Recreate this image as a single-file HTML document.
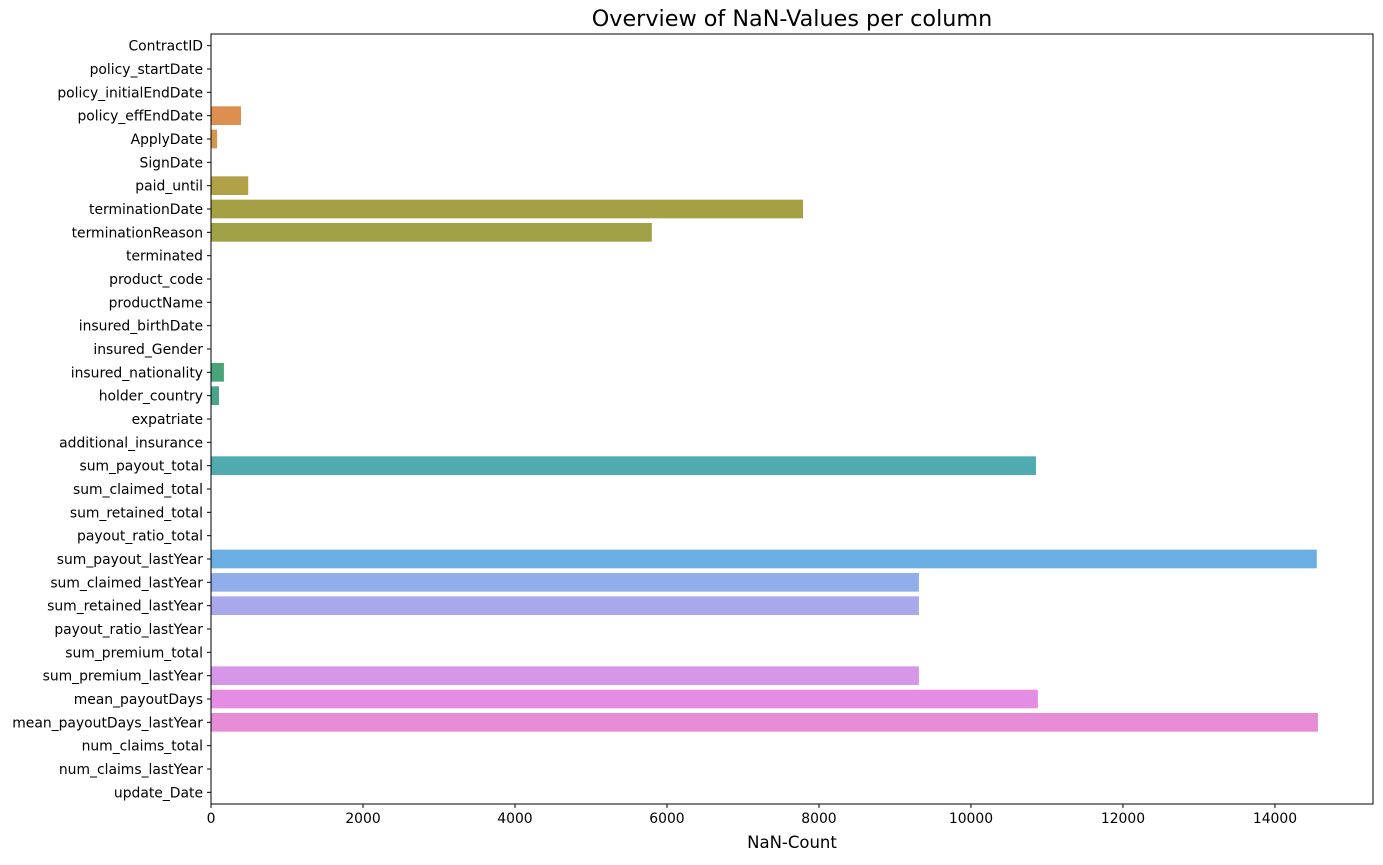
<!DOCTYPE html>
<html><head><meta charset="utf-8"><style>
body{margin:0;background:#fff;font-family:"DejaVu Sans","Liberation Sans",sans-serif;}
</style></head><body>
<svg width="1383" height="861" id="c" font-family="DejaVu Sans, Liberation Sans, sans-serif"></svg>
<script>
const categories=["ContractID","policy_startDate","policy_initialEndDate","policy_effEndDate","ApplyDate","SignDate","paid_until","terminationDate","terminationReason","terminated","product_code","productName","insured_birthDate","insured_Gender","insured_nationality","holder_country","expatriate","additional_insurance","sum_payout_total","sum_claimed_total","sum_retained_total","payout_ratio_total","sum_payout_lastYear","sum_claimed_lastYear","sum_retained_lastYear","payout_ratio_lastYear","sum_premium_total","sum_premium_lastYear","mean_payoutDays","mean_payoutDays_lastYear","num_claims_total","num_claims_lastYear","update_Date"];
const values=[0,0,0,395,80,0,490,7790,5800,0,0,0,0,0,170,105,0,0,10855,0,0,0,14550,9315,9315,0,0,9315,10880,14565,0,0,0];
const colors=["#f77189","#f7754f","#e8853a","#dd8f4f","#d4944a","#c29a3a","#b0a046","#a5a044","#a0a046","#8ca731","#73ac32","#4fb031","#35ae5f","#36ad78","#4aa47a","#49a58a","#39a895","#3aa79f","#4fabb0","#3ca9b6","#3dabc4","#41add7","#6aaee3","#90aeea","#a8a8eb","#ae9df4","#c49af4","#d797e8","#e58de3","#e68bd5","#f56cc4","#f66ba9","#f66f96"];
const xTicks=[0,2000,4000,6000,8000,10000,12000,14000];
const L=211,R=1373,T=34,B=804,XMAX=15290;
const sx=v=>L+v/XMAX*(R-L);
const band=(B-T)/categories.length;
const sy=i=>T+i*band;
const NS="http://www.w3.org/2000/svg";
const svg=document.getElementById('c');
function mk(t,a,txt){const e=document.createElementNS(NS,t);for(const k in a)e.setAttribute(k,a[k]);if(txt!==undefined)e.textContent=txt;svg.appendChild(e);return e;}
categories.forEach((c,i)=>{
 const y=sy(i),h=band*0.8;
 const r=mk('rect',{x:L,y:y+band*0.1,width:Math.max(0,sx(values[i])-L),height:h,fill:colors[i]});
 
 
 const yc=y+band/2;
 mk('line',{x1:L-4,x2:L,y1:yc,y2:yc,stroke:'#000','stroke-width':1});
 const t=mk('text',{x:L-8,y:yc+5,'text-anchor':'end','font-size':13.9,fill:'#000'},c);
 
 
});
xTicks.forEach(v=>{
 const x=sx(v);
 mk('line',{x1:x,x2:x,y1:B,y2:B+4,stroke:'#000','stroke-width':1});
 const t=mk('text',{x:x,y:B+19,'text-anchor':'middle','font-size':13.9,fill:'#000'},String(v));
 
 
});
const f=mk('rect',{x:L,y:T,width:R-L,height:B-T,fill:'none',stroke:'#000','stroke-width':1});


const ti=mk('text',{x:(L+R)/2,y:26,'text-anchor':'middle','font-size':22.3,fill:'#000'},'Overview of NaN-Values per column');


const xl=mk('text',{x:(L+R)/2,y:848,'text-anchor':'middle','font-size':16.5,fill:'#000'},'NaN-Count');


</script>
</body></html>
